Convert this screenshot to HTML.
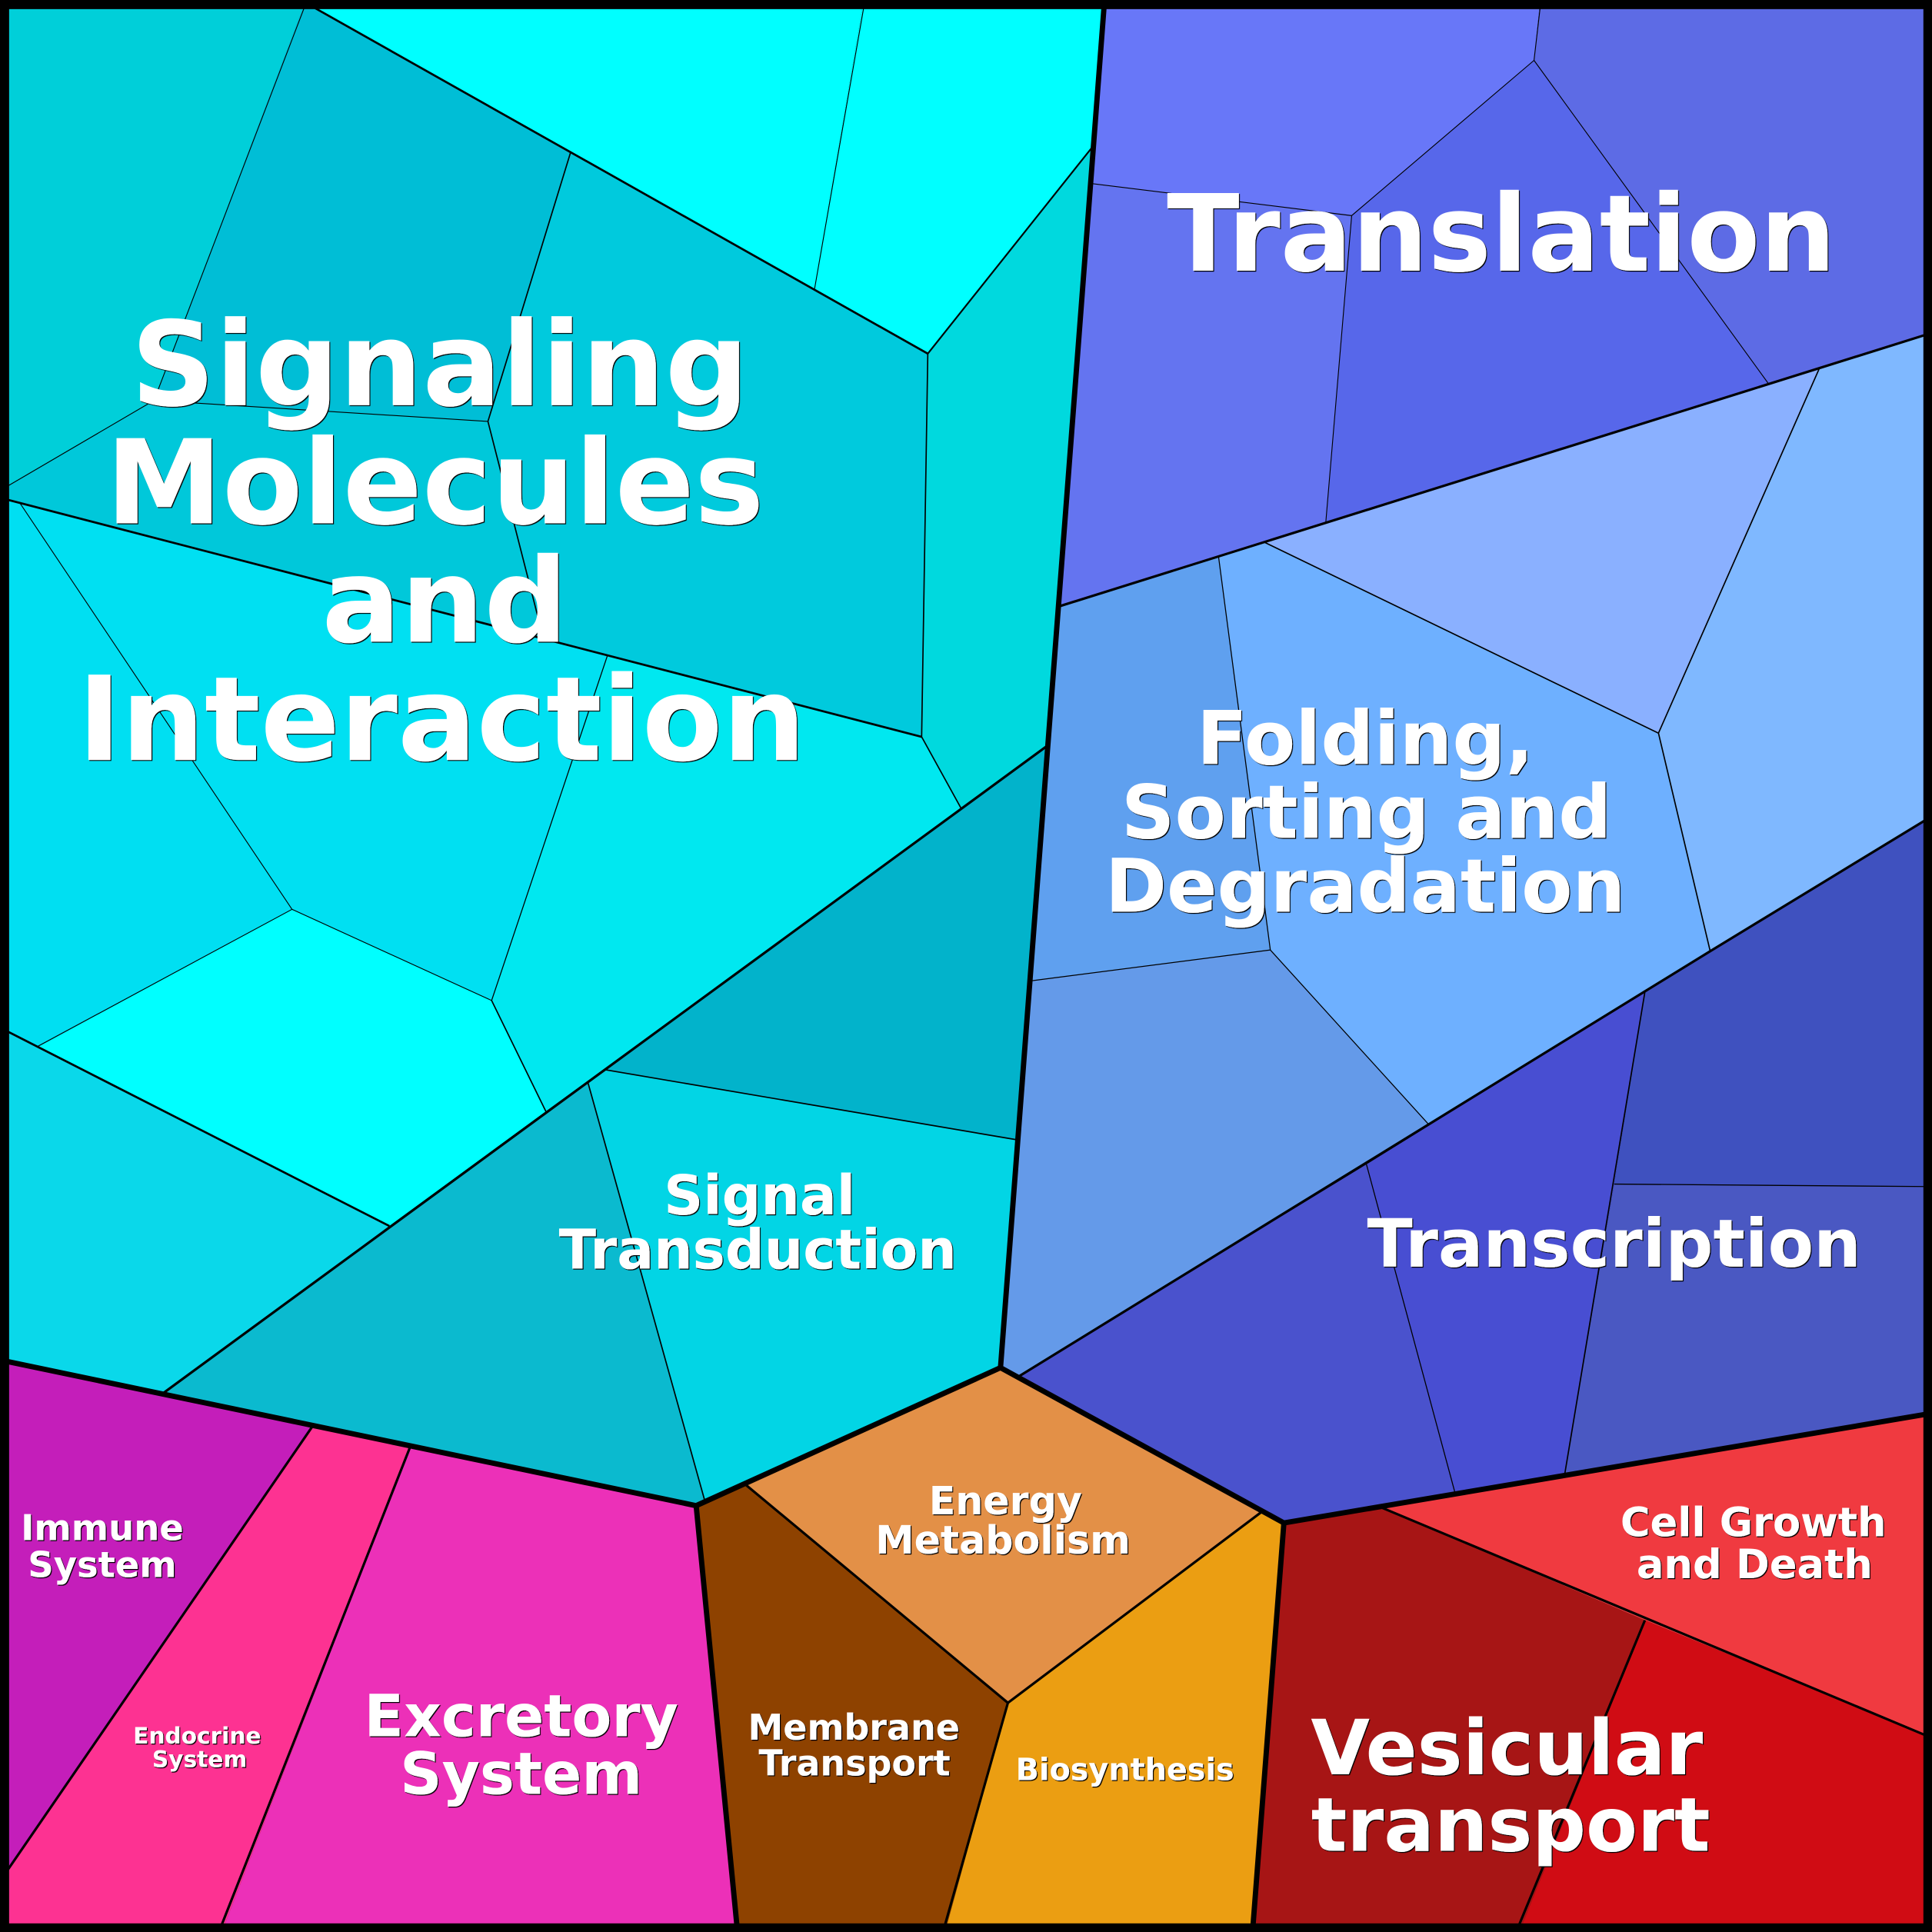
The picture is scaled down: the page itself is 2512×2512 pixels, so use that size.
<!DOCTYPE html>
<html><head><meta charset="utf-8"><title>Voronoi treemap</title>
<style>html,body{margin:0;padding:0;background:#000}svg{display:block}
text{font-family:"DejaVu Sans",sans-serif;font-weight:700;fill:#fff;text-anchor:middle}
path,polyline,line{fill:none;stroke:#000;stroke-linejoin:miter}
.h{stroke-width:4.3;stroke-linejoin:round;stroke-linecap:round}
</style></head><body>
<svg xmlns="http://www.w3.org/2000/svg" width="2512" height="2512" viewBox="0 0 1568 1568">
<defs><filter id="s" x="-5%" y="-5%" width="110%" height="110%"><feDropShadow dx="0.75" dy="0.75" stdDeviation="0.2" flood-color="#000" flood-opacity="1"/></filter></defs>
<polygon fill="#00bed6" points="247,0 300,0 463,124 396,342 125,325"/>
<polygon fill="#00cfd9" points="0,0 248,0 125,325 7,394 0,398"/>
<polygon fill="#00c8da" points="0,398 125,325 396,342 441,518 0,404"/>
<polygon fill="#00cadd" points="463,124 753,287 748,598 441,518 396,342"/>
<polygon fill="#00ffff" points="244,0 701,0 661,235 463.8,124.4"/>
<polygon fill="#00ffff" points="701,0 896,0 886,120 753,287 661,235"/>
<polygon fill="#00d9de" points="753,287 886,120 849,606 780,656 748,598"/>
<polygon fill="#00e8f0" points="493,532 748,598 780,656 443,902 399,812"/>
<polygon fill="#00e0f2" points="16,408 493,532 399,812 237,738"/>
<polygon fill="#00dff2" points="0,404 16,408 237,738 31,849.6 0,834"/>
<polygon fill="#00ffff" points="237,738 399,812 443,902 316,995 31,849.6"/>
<polygon fill="#0ad8ea" points="0,834 316,995 132,1131 0,1105"/>
<polygon fill="#02b3cb" points="849,606 490,868 825,925"/>
<polygon fill="#02d5e5" points="490,868 825,925 812,1110 572,1218 477,878"/>
<polygon fill="#0bbacf" points="477,878 572,1218 565,1222 132,1131"/>
<polygon fill="#6877f8" points="896,0 1250,0 1245,49 1097,175 886,149"/>
<polygon fill="#5d6be5" points="1250,0 1568,0 1568,270 1435,311 1245,49"/>
<polygon fill="#5767ea" points="1245,49 1435,311 1076,424 1097,175"/>
<polygon fill="#6474f0" points="886,149 1097,175 1076,424 860,492"/>
<polygon fill="#8ab0ff" points="1477,298 1026,440 1346,595"/>
<polygon fill="#7fb8ff" points="1477,298 1568,270 1568,663 1388,772 1346,595"/>
<polygon fill="#6eb0ff" points="989,452 1026,440 1346,595 1388,772 1159,912 1031,771"/>
<polygon fill="#5fa0ef" points="860,492 989,452 1031,771 837,796"/>
<polygon fill="#649ae9" points="837,796 1031,771 1159,912 827,1117 812,1110"/>
<polygon fill="#3f51bf" points="1388,772 1568,663 1568,963 1310,961 1335,805"/>
<polygon fill="#484ed2" points="1335,805 1310,961 1270,1196 1181,1212 1109,945"/>
<polygon fill="#4a52cd" points="1109,945 1181,1212 1042,1236 827,1117"/>
<polygon fill="#4a58c2" points="1310,961 1568,963 1568,1148 1270,1196"/>
<polygon fill="#e39047" points="812,1110 1024,1227 818,1382 604,1204"/>
<polygon fill="#8e4200" points="565,1222 604,1204 818,1382 767,1568 598,1568"/>
<polygon fill="#eb9e12" points="818,1382 1024,1227 1042,1236 1017,1568 767,1568"/>
<polygon fill="#a71515" points="1042,1236 1120,1223 1335,1315 1233,1568 1017,1568"/>
<polygon fill="#f03a40" points="1120,1223 1568,1147 1568,1410 1335,1315"/>
<polygon fill="#d00c14" points="1335,1315 1568,1410 1568,1568 1233,1568"/>
<polygon fill="#c41eba" points="0,1105 254,1157 0,1527"/>
<polygon fill="#fd3292" points="254,1157 333,1174 180,1568 0,1568 0,1527"/>
<polygon fill="#ec30b8" points="333,1174 565,1222 598,1568 180,1568"/>
<!-- thin cell borders -->
<path stroke-width=".7" d="M247,6 L125,325 L7,394 M701,6 L661,235 M125,325 L396,342 M16,408 L237,738 L31,849 M237,738 L399,812 M1097,175 L1076,424 M886,149 L1097,175 L1245,49 L1250,6 M1245,49 L1435,311"/>
<path stroke-width=".8" d="M493,532 L399,812 M989,452 L1031,771 L837,796 M1031,771 L1159,912 M1109,945 L1181,1212 M1310,961 L1562,963"/>
<path stroke-width="1.05" d="M463,124 L396,342 L441,518 M399,812 L443,902 M753,287 L748,598 L780,656 M490,868 L825,925 M477,878 L572,1218 M1026,440 L1346,595 L1477,298 M1346,595 L1388,772 M1335,805 L1270,1196"/>
<path stroke-width="1.35" d="M753,287 L886,120"/>
<!-- medium -->
<path stroke-width="1.7" d="M244,0 L753,287 M0,404 L748,598 M0,834 L316,995"/>
<path stroke-width="2" d="M849,606 L132,1131 M860,492 L1562,272 M1388,772 L1562,666 M827,1117 L1388,772"/>
<path stroke-width="2" d="M604,1204 L818,1382 L1024,1227 M818,1382 L767,1562 M1120,1223 L1562,1408 M1335,1315 L1233,1562 M254,1157 L6,1518 M333,1174 L180,1562"/>
<!-- thick -->
<polyline class="h" points="896,6 812,1110 1042,1236 1562,1148"/>
<polyline class="h" points="6,1105 565,1222 812,1110"/>
<line class="h" x1="565" y1="1222" x2="598" y2="1562"/>
<line class="h" x1="1042" y1="1236" x2="1017" y2="1562"/>
<rect x="3.7" y="3.7" width="1561" height="1561" fill="none" stroke="#000" stroke-width="7.4"/>
<g filter="url(#s)">
<g font-size="95"><text x="357" y="328.8">Signaling</text><text x="353" y="424.8">Molecules</text><text x="361" y="520.8">and</text><text x="358.5" y="616.8">Interaction</text></g>
<text x="1218.5" y="219.7" font-size="86.4">Translation</text>
<g font-size="60.3"><text x="1108" y="620">Folding,</text><text x="1109" y="680">Sorting and</text><text x="1108" y="740">Degradation</text></g>
<g font-size="44.3"><text x="616.5" y="985.5">Signal</text><text x="615" y="1029.5">Transduction</text></g>
<text x="1310" y="1028" font-size="54.1">Transcription</text>
<g font-size="31.6"><text x="816" y="1229">Energy</text><text x="814" y="1261">Metabolism</text></g>
<g font-size="28.7"><text x="693" y="1412">Membrane</text><text x="693.5" y="1441">Transport</text></g>
<text x="913" y="1444.7" font-size="24.8">Biosynthesis</text>
<g font-size="32.9"><text x="1423" y="1247">Cell Growth</text><text x="1424" y="1281">and Death</text></g>
<text x="1223" y="1440" font-size="61.8">Vesicular</text><text x="1226" y="1502" font-size="60.8">transport</text>
<g font-size="47.2"><text x="423" y="1409">Excretory</text><text x="423" y="1456">System</text></g>
<g font-size="29"><text x="83" y="1250">Immune</text><text x="83" y="1280">System</text></g>
<g font-size="18.5"><text x="160" y="1415">Endocrine</text><text x="162" y="1434">System</text></g>
</g>
</svg>
</body></html>
